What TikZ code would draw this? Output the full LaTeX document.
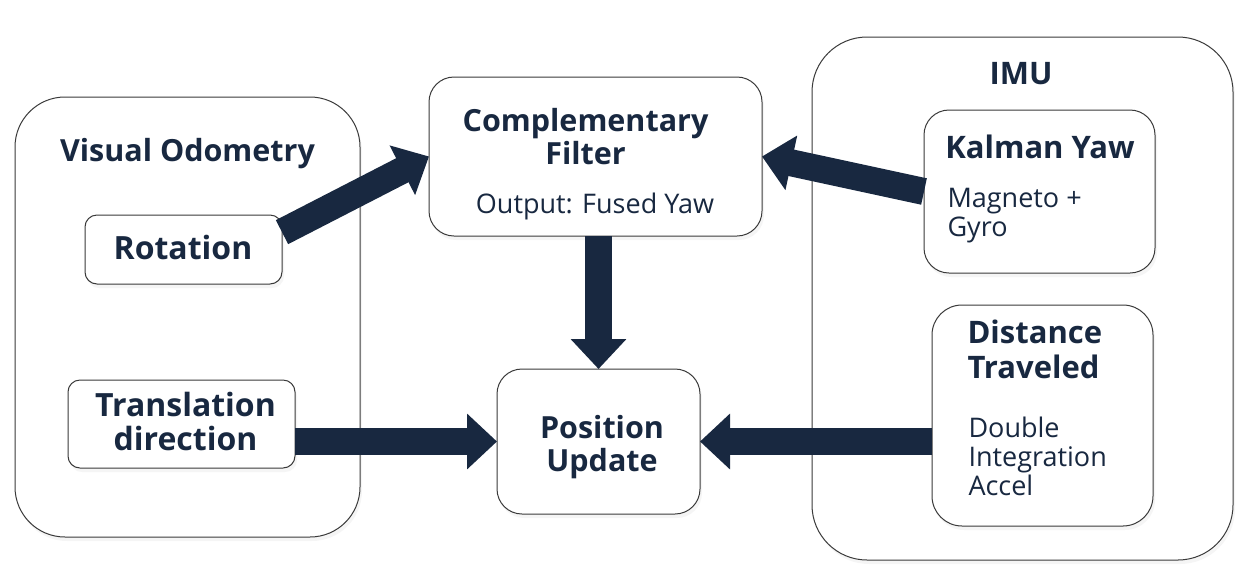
\documentclass[tikz,border=0pt]{standalone}
\usepackage{fontspec}
\setmainfont{Open Sans}
\usetikzlibrary{arrows.meta,shadows}
\definecolor{navy}{HTML}{182840}
\definecolor{edge}{HTML}{3A3A3A}

\begin{document}
\begin{tikzpicture}[x=1pt, y=-1pt,
    box/.style={draw=edge, line width=1pt, fill=white, rectangle, inner sep=0pt, outer sep=0pt,
        drop shadow={opacity=0.08, shadow xshift=2pt, shadow yshift=-4pt}},
    title/.style={text=navy, font=\fontsize{30.5}{33}\selectfont\bfseries, anchor=base, align=center},
    bigtitle/.style={title, font=\fontsize{32}{34}\selectfont\bfseries},
    subtitle/.style={text=navy, font=\fontsize{31}{35}\selectfont\bfseries, anchor=base},
    note/.style={text=navy, font=\fontsize{27}{29}\selectfont, anchor=base, align=left},
    flow/.style={draw=navy, line width=27pt, -{Triangle[width=54pt, length=30pt]}}]
    \useasboundingbox (0, 0) rectangle (1247, 582);

    % groups
    \node [box, rounded corners=50pt, minimum width=345pt, minimum height=440pt] (vo) at (187.5, 317) {};
    \node [box, rounded corners=55pt, minimum width=421pt, minimum height=523pt] (imu) at (1022.5, 298.5) {};
    \node [title] at (187.5, 161) {Visual Odometry};
    \node [subtitle] at (1021, 84) {IMU};

    % blocks
    \node [box, rounded corners=25pt, minimum width=333pt, minimum height=159pt] (cf) at (595.5, 156.5) {};
    \node [box, rounded corners=12pt, minimum width=197pt, minimum height=69pt] (rot) at (183.5, 249.5) {};
    \node [box, rounded corners=12pt, minimum width=227pt, minimum height=88pt] (trans) at (181.5, 424) {};
    \node [box, rounded corners=25pt, minimum width=203pt, minimum height=145pt] (pu) at (598.5, 441.5) {};
    \node [box, rounded corners=25pt, minimum width=231pt, minimum height=163pt] (kal) at (1039.5, 191.5) {};
    \node [box, rounded corners=30pt, minimum width=221pt, minimum height=221pt] (dist) at (1042.5, 415.5) {};

    % multi-line texts sit on the baseline of their last line
    \node [title] at (585.5, 164) {Complementary \\ Filter};
    \node [note, anchor=base] at (595, 213) {Output: Fused Yaw};
    \node [bigtitle] at (183, 259) {Rotation};
    \node [bigtitle] at (185.5, 450) {Translation \\ direction};
    \node [title] at (602, 471) {Position \\ Update};
    \node [subtitle] at (1040, 158) {Kalman Yaw};
    \node [note, anchor=base west] at (944, 236) {Magneto + \\ Gyro};
    \node [subtitle, anchor=base west, align=left] at (964, 378) {Distance \\ Traveled};
    \node [note, anchor=base west] at (965, 495) {Double \\ Integration \\ Accel};

    % arrows
    \draw [flow] (rot.10) -- (cf.west);
    \draw [flow] (kal.west) -- (cf.east);
    \draw [flow] (cf.south -| pu.north) -- (pu.north);
    \draw [flow] (trans.east |- pu.west) -- (pu.west);
    \draw [flow] (dist.west |- pu.east) -- (pu.east);

\end{tikzpicture}
\end{document}
